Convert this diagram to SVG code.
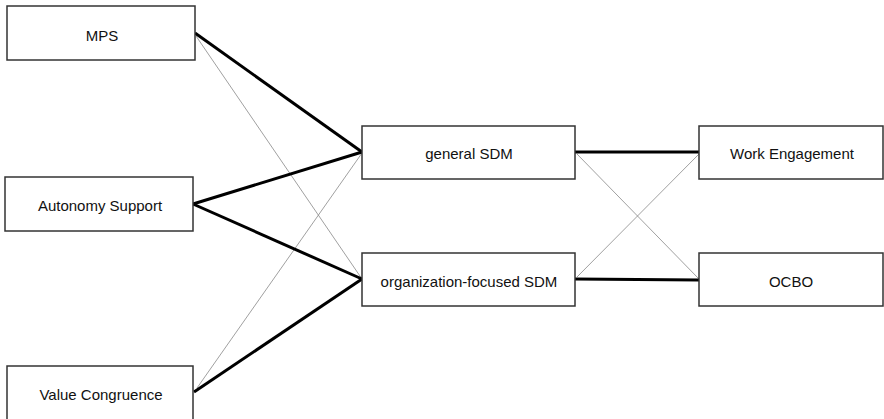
<svg xmlns="http://www.w3.org/2000/svg" width="884" height="419" viewBox="0 0 884 419">
<style>
.box{fill:#fff;stroke:#333;stroke-width:1.5}
.lbl{font-family:"Liberation Sans",Arial,sans-serif;font-size:15px;fill:#111;text-anchor:middle;dominant-baseline:central}
.thick{stroke:#000;stroke-width:3;fill:none}
.thin{stroke:#888;stroke-width:0.8;fill:none}
</style>
<rect width="884" height="419" fill="#fff"/>
<g id="connectors">
<line class="thin" x1="196" y1="36" x2="362" y2="279"/>
<line class="thin" x1="197" y1="388" x2="362" y2="153"/>
<line class="thin" x1="577" y1="154" x2="699" y2="279"/>
<line class="thin" x1="577" y1="277" x2="699" y2="154"/>
<line class="thick" x1="195" y1="33" x2="362" y2="152"/>
<line class="thick" x1="193" y1="204" x2="362" y2="152"/>
<line class="thick" x1="193" y1="204" x2="362" y2="279"/>
<line class="thick" x1="194" y1="392" x2="362" y2="279"/>
<line class="thick" x1="575" y1="152" x2="699" y2="152"/>
<line class="thick" x1="575" y1="279" x2="699" y2="280"/>
</g>
<g id="mps"><rect class="box" x="7" y="6" width="188" height="54"/><text class="lbl" x="102" y="35">MPS</text></g>
<g id="autonomy"><rect class="box" x="5" y="177" width="188" height="54"/><text class="lbl" x="100" y="205">Autonomy Support</text></g>
<g id="value"><rect class="box" x="7" y="366" width="186" height="56"/><text class="lbl" x="101" y="394">Value Congruence</text></g>
<g id="general"><rect class="box" x="362" y="126" width="213" height="53"/><text class="lbl" x="469" y="153">general SDM</text></g>
<g id="org"><rect class="box" x="362" y="253" width="213" height="53"/><text class="lbl" x="469" y="281">organization-focused SDM</text></g>
<g id="we"><rect class="box" x="699" y="126" width="184" height="53"/><text class="lbl" x="792" y="153">Work Engagement</text></g>
<g id="ocbo"><rect class="box" x="699" y="253" width="184" height="53"/><text class="lbl" x="791" y="281">OCBO</text></g>
</svg>
